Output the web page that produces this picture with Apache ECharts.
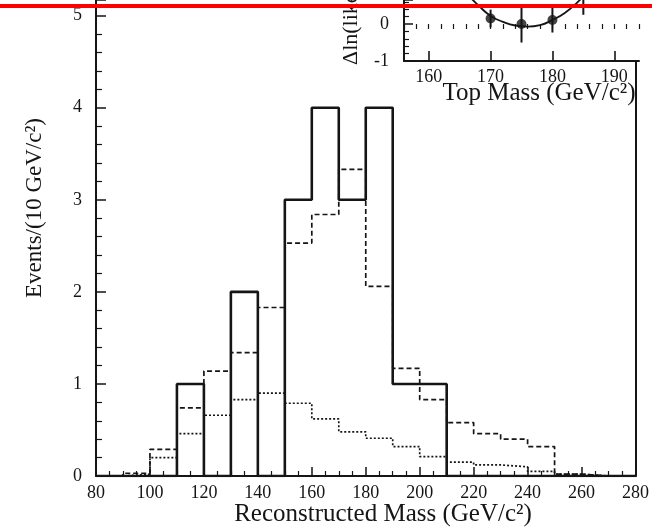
<!DOCTYPE html>
<html>
<head>
<meta charset="utf-8">
<script src="https://cdn.jsdelivr.net/npm/echarts@6/dist/echarts.min.js"></script>
<style>html,body{margin:0;padding:0;background:#fff}#c{width:652px;height:529px}</style>
</head>
<body>
<div id="c"></div>
<script>
// ---- data ----
const massBinEdges = [80,90,100,110,120,130,140,150,160,170,180,190,200,210,220,230,240,250,260,270,280];
const observed      = [0,0,0,1,0,2,0,3,4,3,4,1,1,0,0,0,0,0,0,0];
const signalPlusBkg = [0,0.03,0.29,0.74,1.14,1.34,1.83,2.53,2.84,3.33,2.06,1.17,0.83,0.58,0.46,0.40,0.32,0.02,0,0];
const background    = [0,0.02,0.20,0.46,0.66,0.83,0.90,0.79,0.62,0.48,0.41,0.32,0.21,0.15,0.12,0.10,0.05,0.02,0,0];
const xTicks = [80,100,120,140,160,180,200,220,240,260,280];

const insetMass = [170,175,180,185];
const insetDlnL = [0.15,0.00,0.11,0.72];
const insetErr  = [0.24,0.50,0.34,0.47];
const fitMass = [162,164,166,168,170,172,174,176,178,180,182,184,186,188,190];
const fitDlnL = [1.75,1.27,0.85,0.51,0.22,0.06,-0.04,-0.07,-0.03,0.11,0.30,0.58,0.93,1.37,1.87];
const insetXTicks = [160,170,180,190];

function stepData(vals){
  const d = vals.map((v,i)=>[massBinEdges[i], v]);
  d.push([massBinEdges[massBinEdges.length-1], vals[vals.length-1]]);
  return d;
}

const FONT = 'Liberation Serif';
const INK = '#151515';
const chart = echarts.init(document.getElementById('c'), null, {renderer:'canvas'});
chart.setOption({
  animation:false,
  backgroundColor:'#fff',
  grid:[
    {left:96, right:14, top:0, bottom:53, show:false},
    {left:404, right:13, top:0, bottom:468, show:true, borderWidth:0, backgroundColor:'#fff', z:3}
  ],
  xAxis:[
    {type:'value', gridIndex:0, min:80, max:280, interval:20,
     axisLine:{show:true, onZero:false, lineStyle:{color:INK, width:2}},
     axisTick:{show:true, inside:true, length:9, lineStyle:{color:INK, width:1.5}},
     minorTick:{show:true, splitNumber:4, length:5, lineStyle:{color:INK, width:1.2}},
     splitLine:{show:false},
     axisLabel:{margin:8, color:INK, fontFamily:FONT, fontSize:18, customValues:xTicks}
    },
    {type:'value', gridIndex:1, min:156, max:194, z:4,
     axisLine:{show:true, onZero:false, lineStyle:{color:INK, width:2}},
     axisTick:{show:true, inside:true, length:10, customValues:insetXTicks, lineStyle:{color:INK, width:1.6}},
     splitLine:{show:false},
     axisLabel:{margin:7, color:INK, fontFamily:FONT, fontSize:18, customValues:insetXTicks}
    },
    {type:'value', gridIndex:1, min:156, max:194, interval:2, z:4,
     axisLine:{show:false},
     axisTick:{show:true, inside:true, length:5, lineStyle:{color:INK, width:1.2}},
     splitLine:{show:false},
     axisLabel:{show:false}
    }
  ],
  yAxis:[
    {type:'value', gridIndex:0, min:0, max:5.17, interval:1,
     axisLine:{show:true, onZero:false, lineStyle:{color:INK, width:2}},
     axisTick:{show:true, inside:true, length:10, lineStyle:{color:INK, width:1.5}},
     minorTick:{show:true, splitNumber:5, length:6, lineStyle:{color:INK, width:1.2}},
     splitLine:{show:false},
     axisLabel:{margin:14, color:INK, fontFamily:FONT, fontSize:18,
       formatter:v=> (Number.isInteger(v) ? String(v) : '')}
    },
    {type:'value', gridIndex:0, position:'right', min:0, max:5.17,
     axisLine:{show:true, onZero:false, lineStyle:{color:INK, width:2}},
     axisTick:{show:false}, axisLabel:{show:false}, splitLine:{show:false}
    },
    {type:'value', gridIndex:1, min:-1, max:0.65, interval:1, z:4,
     axisLine:{show:true, onZero:false, lineStyle:{color:INK, width:2}},
     axisTick:{show:true, inside:true, length:9, lineStyle:{color:INK, width:1.5}},
     minorTick:{show:true, splitNumber:5, length:5, lineStyle:{color:INK, width:1.2}},
     splitLine:{show:false},
     axisLabel:{margin:15, color:INK, fontFamily:FONT, fontSize:18,
       formatter:v=> (Number.isInteger(v) ? String(v) : '')}
    }
  ],
  series:[
    {type:'line', xAxisIndex:0, yAxisIndex:0, step:'end', data:stepData(background),
     showSymbol:false, lineStyle:{color:INK, width:1.7, type:[2,2]}, z:2},
    {type:'line', xAxisIndex:0, yAxisIndex:0, step:'end', data:stepData(signalPlusBkg),
     showSymbol:false, lineStyle:{color:INK, width:1.7, type:[5,3]}, z:3},
    {type:'line', xAxisIndex:0, yAxisIndex:0, step:'end', data:stepData(observed),
     showSymbol:false, lineStyle:{color:INK, width:2.6}, z:4},
    {type:'line', xAxisIndex:1, yAxisIndex:2, smooth:true, data:fitMass.map((m,i)=>[m,fitDlnL[i]]),
     showSymbol:false, lineStyle:{color:INK, width:1.8}, z:5},
    {type:'custom', xAxisIndex:1, yAxisIndex:2, z:6,
     data:insetMass.map((m,i)=>[m, insetDlnL[i], insetErr[i]]),
     renderItem:function(params, api){
       const x=api.value(0), y=api.value(1), e=api.value(2);
       const a=api.coord([x,y+e]), b=api.coord([x,y-e]);
       return {type:'line', shape:{x1:a[0],y1:a[1],x2:b[0],y2:b[1]}, style:{stroke:INK, lineWidth:2}};
     }},
    {type:'scatter', xAxisIndex:1, yAxisIndex:2, z:7, symbolSize:10,
     data:insetMass.map((m,i)=>[m, insetDlnL[i]]), itemStyle:{color:INK}}
  ],
  graphic:[
    {type:'text', x:35, y:208, rotation:Math.PI/2, z:10,
     style:{text:'Events/(10 GeV/c²)', font:'23px "Liberation Serif"', fill:INK, textAlign:'center', textVerticalAlign:'middle'}},
    {type:'text', x:383, y:514, z:10,
     style:{text:'Reconstructed Mass (GeV/c²)', font:'25px "Liberation Serif"', fill:INK, textAlign:'center', textVerticalAlign:'middle'}},
    {type:'text', x:539, y:93, z:10,
     style:{text:'Top Mass (GeV/c²)', font:'25px "Liberation Serif"', fill:INK, textAlign:'center', textVerticalAlign:'middle'}},
    {type:'text', x:351, y:65, rotation:Math.PI/2, z:10,
     style:{text:'Δln(likelihood)', font:'22px "Liberation Serif"', fill:INK, textAlign:'left', textVerticalAlign:'middle'}},
    {type:'rect', shape:{x:0, y:4, width:652, height:4}, style:{fill:'#ff0000'}, z:20}
  ]
});
</script>
</body>
</html>
